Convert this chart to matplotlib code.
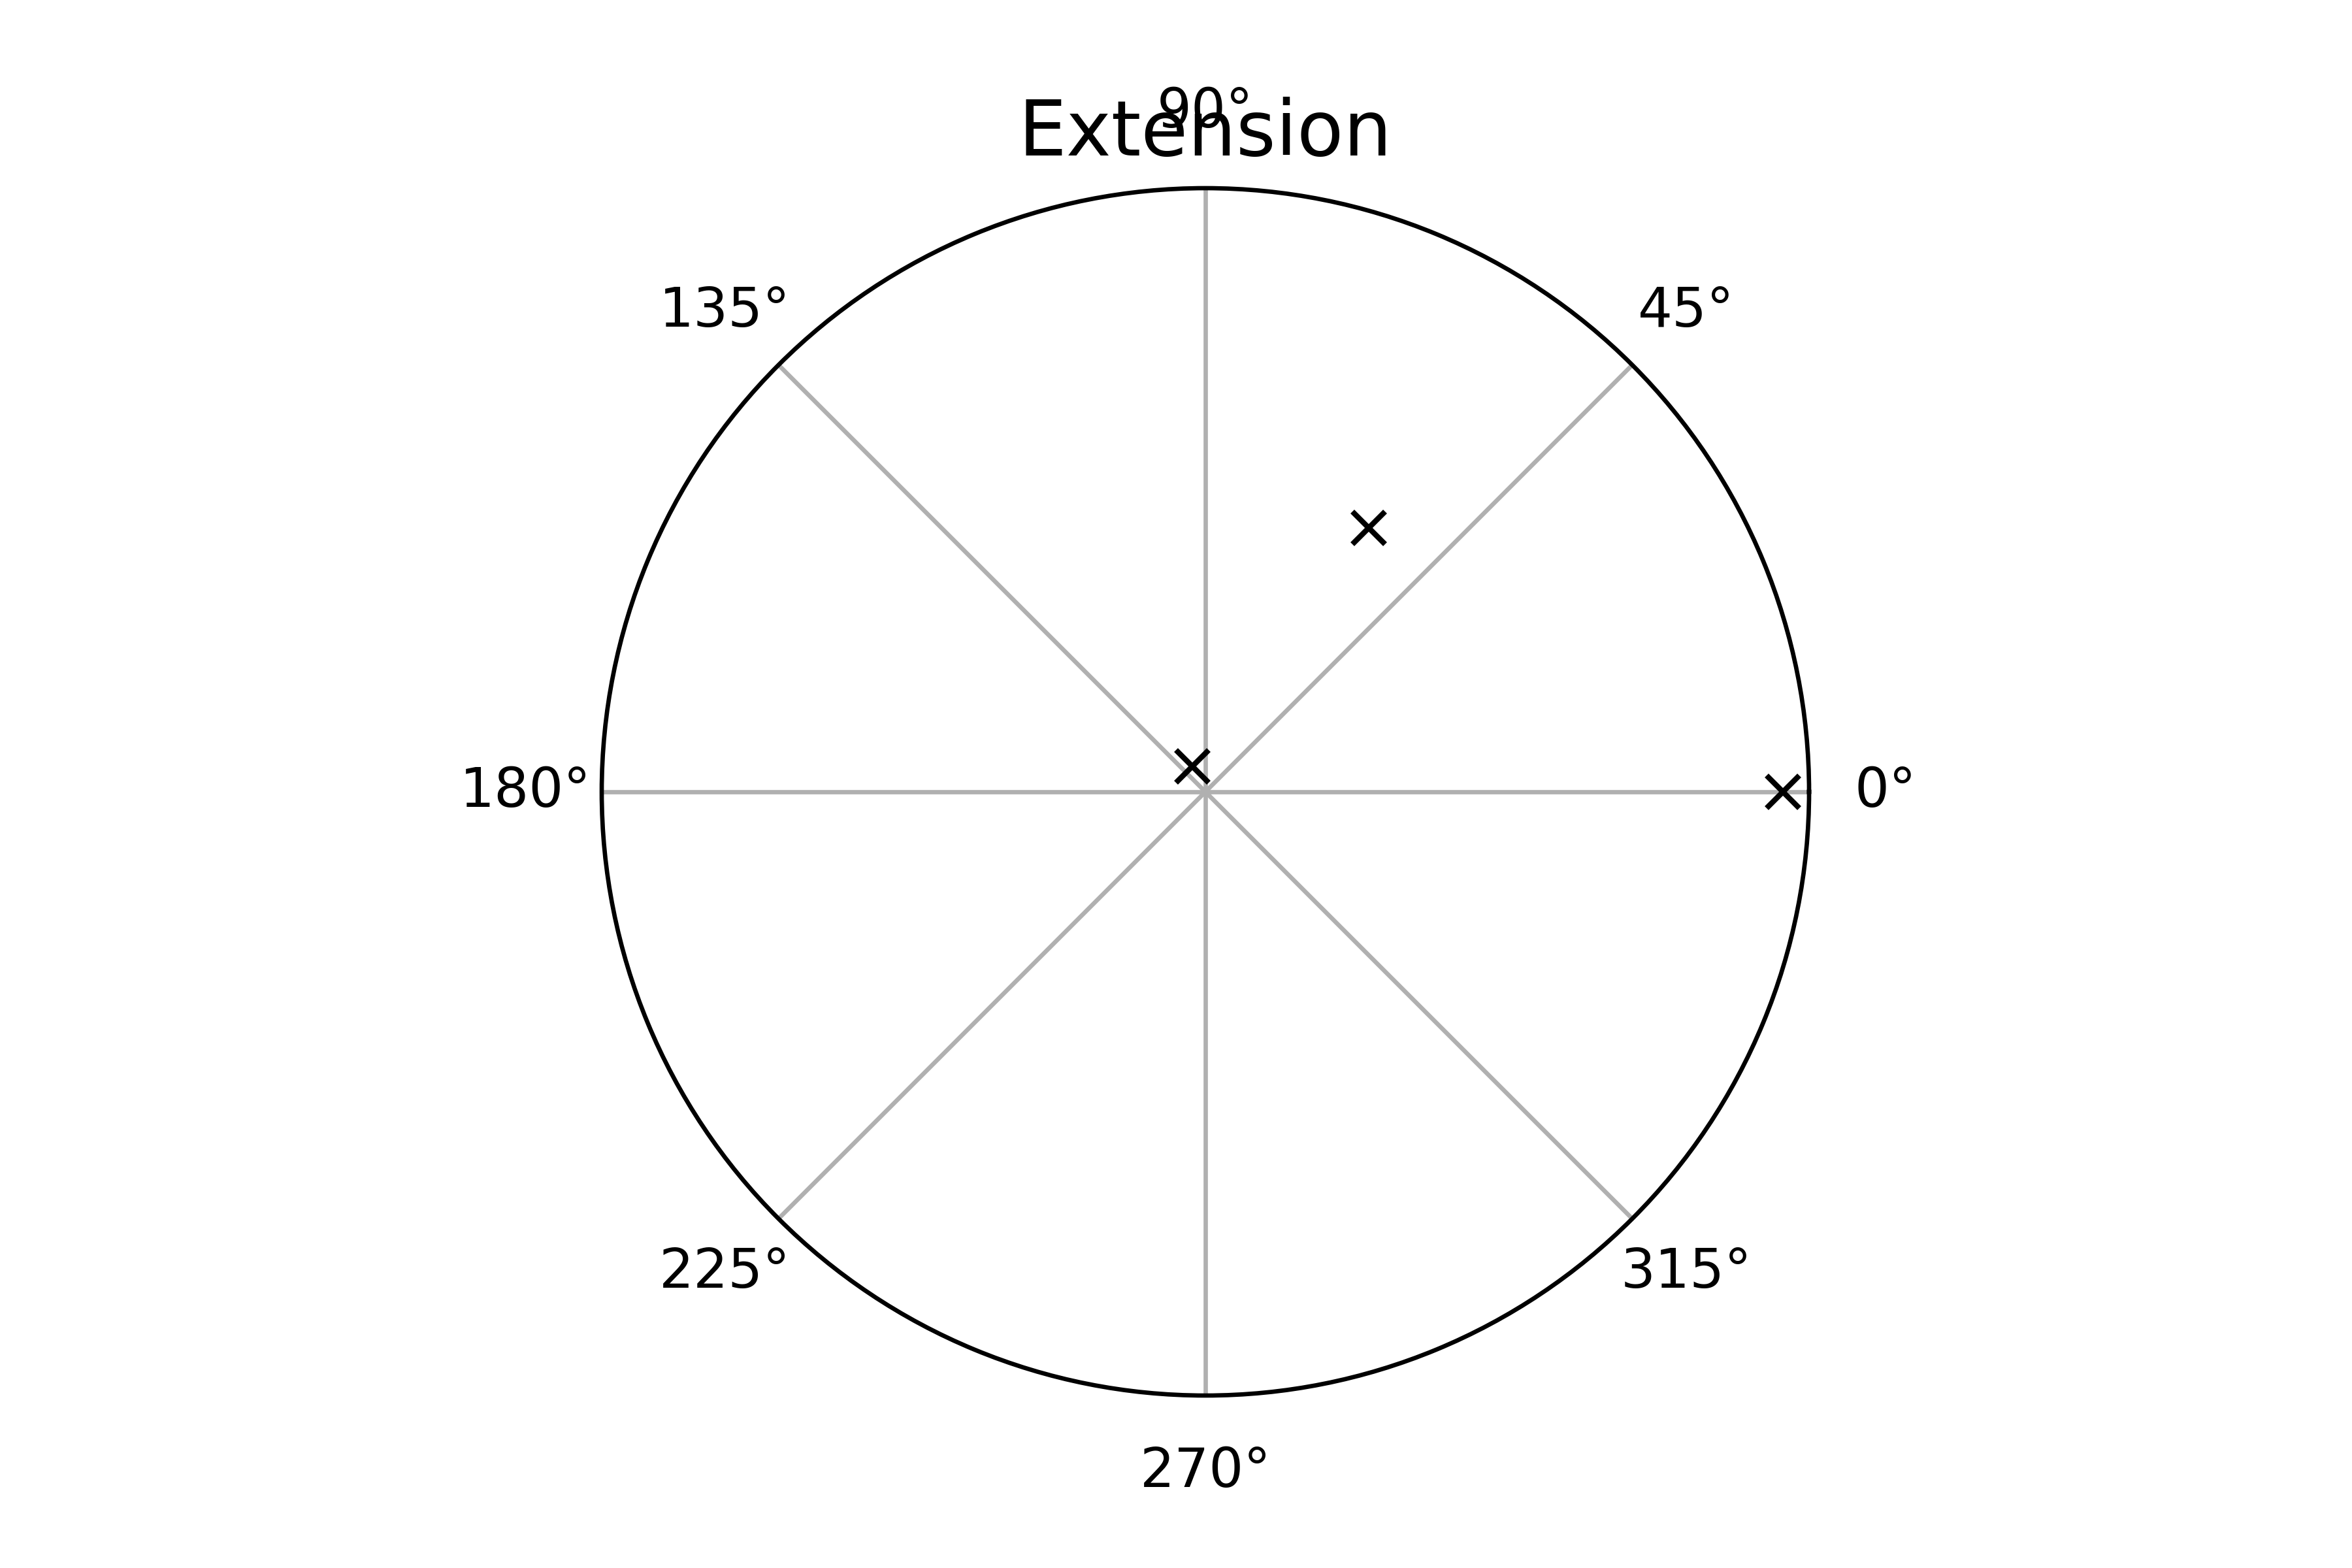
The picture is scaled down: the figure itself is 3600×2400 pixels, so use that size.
import numpy as np
import matplotlib
matplotlib.use("Agg")
import matplotlib.pyplot as plt

# marker positions (angle in degrees, radius on 0..1)
angles_deg = [0.0, 58.3, 116.7]
radii = [0.957, 0.514, 0.047]
title = "Extension"

fig = plt.figure(figsize=(6, 4), dpi=600)
ax = fig.add_subplot(111, projection="polar")
ax.plot(np.deg2rad(angles_deg), radii, "kx", linestyle="none")
ax.set_rlim(0, 1)
ax.set_yticks([])
# fixed y keeps the title right above the circle, over the 90° label
ax.set_title(title, fontsize=14, y=1.0)
fig.savefig("out.png", dpi=600)
